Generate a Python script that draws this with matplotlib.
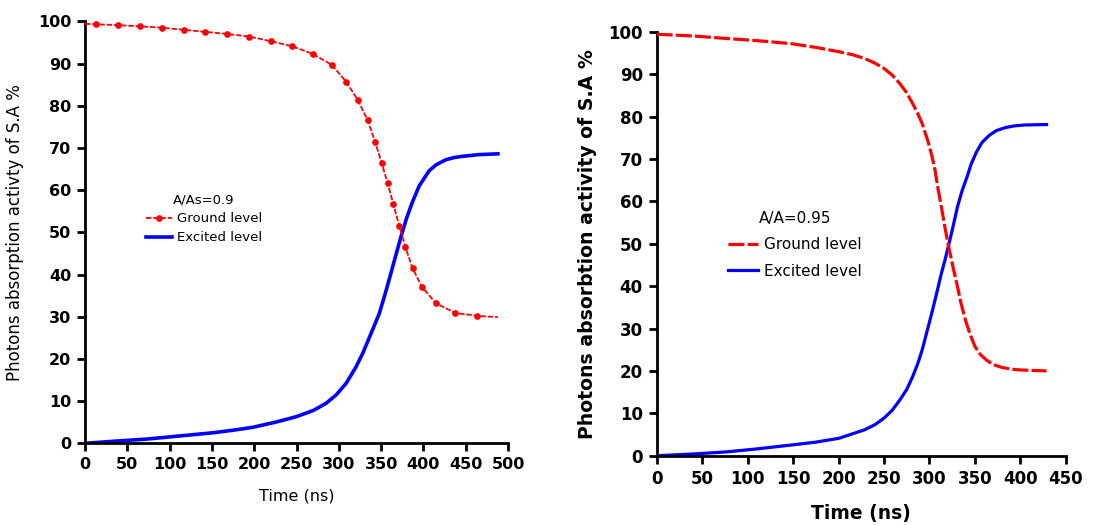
import matplotlib
matplotlib.use("Agg")
import matplotlib.pyplot as plt

# ---- Left panel data (A/As = 0.9) ----
t_ground_a = [0, 13, 38.6, 64.9, 90.4, 116.4, 142.3, 168.3, 194.2, 219.3, 244.9, 268.9,
              291.6, 308.6, 322.3, 334, 342.8, 350.6, 357.7, 364.4, 371.5, 378.5, 387.2,
              398.2, 414.7, 437.5, 463.8, 488]
y_ground_a = [99.4, 99.3, 99.1, 98.8, 98.5, 98.0, 97.5, 97.0, 96.4, 95.3, 94.1, 92.3,
              89.7, 85.7, 81.4, 76.6, 71.5, 66.5, 61.6, 56.7, 51.5, 46.6, 41.5,
              37.1, 33.2, 30.9, 30.2, 29.9]
t_excited_a = [0, 35, 72.7, 120, 151.3, 175, 198.5, 225, 249.6, 270, 285, 297, 308.6,
               320, 328.2, 338, 347.9, 355, 361, 367, 373.5, 380, 387.2, 395,
               406.8, 415, 426.5, 436, 446, 465, 488]
y_excited_a = [0, 0.5, 1.0, 1.9, 2.5, 3.1, 3.8, 5.0, 6.3, 7.8, 9.5, 11.5, 14.2,
               18.0, 21.3, 26.0, 30.8, 35.6, 39.9, 44.3, 49.0, 53.3, 57.3, 61.0,
               64.6, 66.0, 67.2, 67.7, 68.0, 68.4, 68.6]

# ---- Right panel data (A/A = 0.95) ----
t_ground_b = [0, 40, 76.9, 110, 147.4, 175, 200, 215, 228.6, 240, 249.7, 259, 267.4,
              275, 281.5, 287, 292, 299.1, 303, 306.2, 309.5, 313.2, 317, 321, 326,
              330.9, 335, 339.7, 345, 350.3, 356, 362.6, 370, 380.2, 390, 401.4,
              415, 428.9]
y_ground_b = [99.4, 99.0, 98.4, 97.9, 97.2, 96.3, 95.3, 94.6, 93.7, 92.6, 91.4, 89.8,
              87.8, 85.6, 83.1, 80.8, 78.4, 73.7, 70.5, 67.4, 63.0, 58.7, 54.0, 49.5,
              44.5, 39.9, 35.8, 32.0, 28.5, 25.7, 23.9, 22.6, 21.5, 20.8, 20.4, 20.2,
              20.1, 20.0]
t_excited_b = [0, 40, 76.9, 110, 147.4, 175, 200.4, 228.6, 240, 249.7, 259, 267.4,
               275, 281.5, 287, 292, 297, 302.6, 308, 313.2, 317, 321, 326, 330.9,
               336, 341.5, 346, 352, 358, 366.1, 374, 383.8, 394, 404.9, 428.9]
y_excited_b = [0, 0.4, 0.9, 1.6, 2.5, 3.2, 4.1, 6.1, 7.3, 8.8, 10.7, 13.1,
               15.6, 18.6, 21.6, 24.9, 29.0, 33.6, 38.3, 43.0, 46.0, 49.5, 54.0, 58.7,
               62.5, 65.8, 68.8, 71.7, 73.9, 75.6, 76.7, 77.4, 77.8, 78.0, 78.1]

xticks_a = list(range(0, 501, 50))
xticks_b = list(range(0, 451, 50))
yticks = list(range(0, 101, 10))

plt.rcParams['font.family'] = ['DejaVu Sans']

fig = plt.figure(figsize=(11.03, 5.25), dpi=100)
axA = fig.add_axes([0.0771, 0.1556, 0.3835, 0.8038])
axB = fig.add_axes([0.5954, 0.1320, 0.3708, 0.8076])


def style(ax, xt, xmax, weight, size):
    for s in ['top', 'right']:
        ax.spines[s].set_visible(False)
    for s in ['left', 'bottom']:
        ax.spines[s].set_linewidth(2)
        ax.spines[s].set_color('black')
    ax.set_xlim(0, xmax)
    ax.set_ylim(0, 100)
    ax.set_xticks(xt)
    ax.set_yticks(yticks)
    ax.tick_params(direction='out', length=6, width=2, labelsize=size, pad=4)
    for lab in ax.get_xticklabels() + ax.get_yticklabels():
        lab.set_fontweight(weight)


# Left panel
axA.plot(t_excited_a, y_excited_a, color='#0000ff', lw=2.6, label='Excited level',
         zorder=2, solid_joinstyle='round')
axA.plot(t_ground_a, y_ground_a, color='#ff0000', lw=1.3, linestyle=(0, (3, 1)),
         marker='o', ms=3.8, markevery=slice(1, -1), label='Ground level', zorder=3)
style(axA, xticks_a, 500, 'semibold', 11.5)
axA.set_xlabel('Time (ns)', fontsize=11.5, labelpad=12)
axA.set_ylabel('Photons absorption activty of S.A %', fontsize=12, labelpad=10)
h, l = axA.get_legend_handles_labels()
legA = axA.legend([h[1], h[0]], [l[1], l[0]], title='A/As=0.9', frameon=False,
                  loc='upper left', bbox_to_anchor=(0.115, 0.62), fontsize=9.5,
                  title_fontsize=9.5, handlelength=2.0, handletextpad=0.4,
                  labelspacing=0.45)

# Right panel
axB.plot(t_excited_b, y_excited_b, color='#0000ff', lw=2.3, label='Excited level',
         zorder=2, solid_joinstyle='round')
axB.plot(t_ground_b, y_ground_b, color='#ff0000', lw=2.3, linestyle=(0, (5, 1)),
         label='Ground level', zorder=3)
style(axB, xticks_b, 450, 'bold', 12)
axB.set_xlabel('Time (ns)', fontsize=13.5, fontweight='bold', labelpad=12)
axB.set_ylabel('Photons absorbtion activity of S.A %', fontsize=13.6, fontweight='bold',
               labelpad=8)
h, l = axB.get_legend_handles_labels()
legB = axB.legend([h[1], h[0]], [l[1], l[0]], title='A/A=0.95', frameon=False,
                  loc='upper left', bbox_to_anchor=(0.14, 0.61), fontsize=11,
                  title_fontsize=11, handlelength=2.0, handletextpad=0.4,
                  labelspacing=0.75)

fig.savefig('out.png', dpi=100)
